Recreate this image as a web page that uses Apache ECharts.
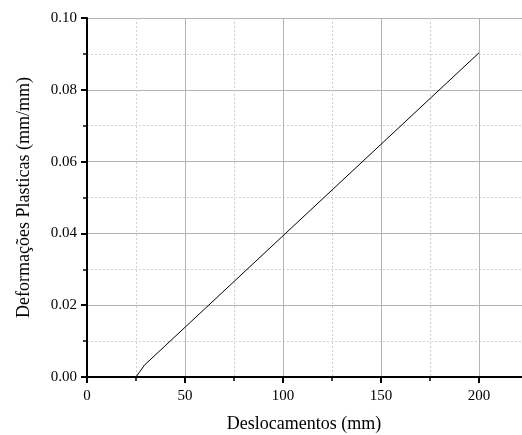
<!DOCTYPE html>
<html>
<head>
<meta charset="utf-8">
<script src="https://cdn.jsdelivr.net/npm/echarts@6/dist/echarts.min.js"></script>
<style>
  html, body { margin: 0; padding: 0; background: #fff; }
  #chart { width: 522px; height: 435px; overflow: hidden; }
</style>
</head>
<body>
<div id="chart"></div>
<script>
// deslocamento (mm) x deformacao plastica (mm/mm)
const deslocamentos = [25, 29.3, 29.8, 200];
const deformacoes = [0, 0.0033, 0.0037, 0.0903];
const xTicks = [0, 50, 100, 150, 200];
const yTicks = [0, 0.02, 0.04, 0.06, 0.08, 0.10];

const font = "Liberation Serif";
const serie = deslocamentos.map((x, i) => [x, deformacoes[i]]);

// the x axis runs past the right edge of the picture (cut at ~222 mm)
const chart = echarts.init(document.getElementById("chart"));
chart.setOption({
  animation: false,
  grid: { left: 87, right: -55, top: 18, bottom: 58, outerBoundsMode: "none" },
  xAxis: [
    {
      type: "value",
      min: 0,
      max: 250,
      interval: xTicks[1] - xTicks[0],
      name: "Deslocamentos (mm)",
      nameLocation: "start",
      nameGap: 38,
      nameTextStyle: { fontFamily: font, fontSize: 18, color: "#000", align: "center", verticalAlign: "top", padding: [38, 0, 0, 0] },
      axisLine: { onZero: false, lineStyle: { color: "#000", width: 2 } },
      axisTick: { inside: false, length: 6, lineStyle: { color: "#000", width: 2 } },
      minorTick: { show: true, splitNumber: 2, length: 4, lineStyle: { color: "#000", width: 1.5 } },
      axisLabel: {
        fontFamily: font, fontSize: 15, color: "#000", margin: 12,
        formatter: (v) => (xTicks.includes(v) ? String(v) : "")
      },
      splitLine: { show: true, lineStyle: { color: "#b4b4b4", width: 1 } },
      minorSplitLine: { show: true, lineStyle: { color: "#cfcfcf", type: [2, 2], width: 1 } }
    },
    {
      type: "value",
      position: "top",
      min: 0,
      max: 250,
      axisLine: { show: true, lineStyle: { color: "#000", width: 2 } },
      axisTick: { show: false },
      axisLabel: { show: false },
      splitLine: { show: false }
    }
  ],
  graphic: [],
  yAxis: {
    type: "value",
    min: 0,
    max: 0.1,
    interval: 0.02,
    name: "Deformações Plasticas (mm/mm)",
    nameLocation: "middle",
    nameGap: 54,
    nameTextStyle: { fontFamily: font, fontSize: 18, color: "#000" },
    axisLine: { show: true, onZero: false, lineStyle: { color: "#000", width: 2 } },
    axisTick: { inside: false, length: 6, lineStyle: { color: "#000", width: 2 } },
    minorTick: { show: true, splitNumber: 2, length: 4, lineStyle: { color: "#000", width: 1.5 } },
    axisLabel: {
      fontFamily: font, fontSize: 15, color: "#000", margin: 10,
      formatter: (v) => v.toFixed(2)
    },
    splitLine: { show: true, lineStyle: { color: "#b4b4b4", width: 1 } },
    minorSplitLine: { show: true, lineStyle: { color: "#cfcfcf", type: [2, 2], width: 1 } }
  },
  series: [
    {
      type: "line",
      data: serie,
      showSymbol: false,
      lineStyle: { color: "#000", width: 1 }
    }
  ]
});

// centre the x title under the visible part of the axis (0 .. ~222)
const mid = chart.convertToPixel({ xAxisIndex: 0 }, 0) + (522 - 1 - chart.convertToPixel({ xAxisIndex: 0 }, 0)) / 2;
chart.setOption({
  xAxis: [{ name: "" }],
  graphic: [{
    type: "text",
    x: mid,
    y: 377 + 38,
    style: { text: "Deslocamentos (mm)", font: "18px " + font, fill: "#000", align: "center", verticalAlign: "top" }
  }]
});
</script>
</body>
</html>
